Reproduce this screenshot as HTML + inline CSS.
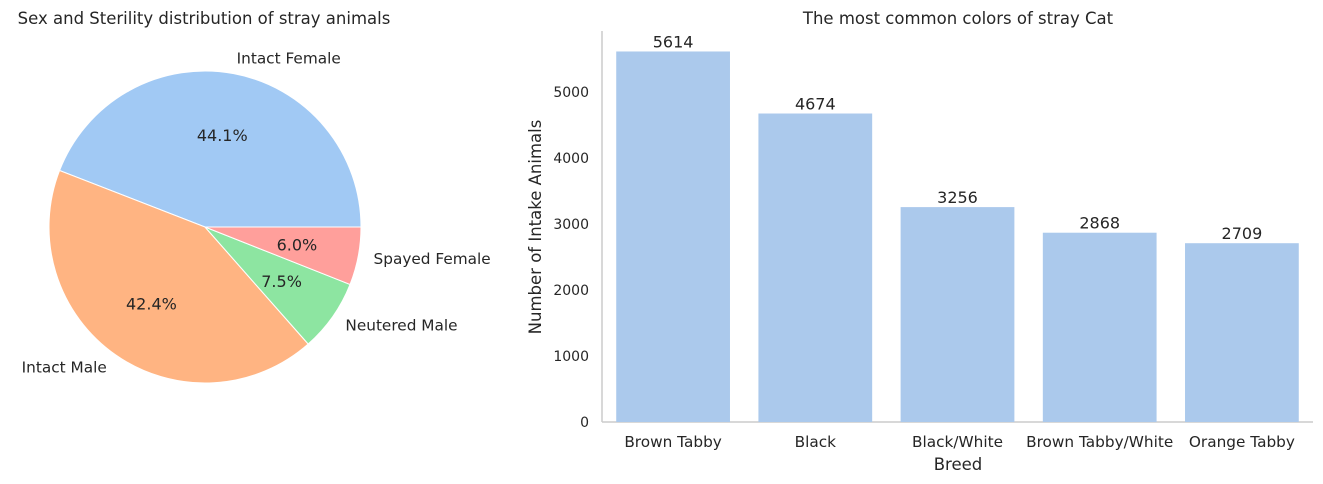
<!DOCTYPE html>
<html><head><meta charset="utf-8"><style>
body{margin:0;background:#fff;}
svg{display:block;font-family:"DejaVu Sans","Liberation Sans",sans-serif;}
</style></head><body>
<svg id="c" width="1323" height="484">
<text x="204" y="24" text-anchor="middle" font-size="16.5" fill="#262626">Sex and Sterility distribution of stray animals</text>
<text x="958" y="24" text-anchor="middle" font-size="16.5" fill="#262626">The most common colors of stray Cat</text>
<g id="pie"></g>
<g id="bars"></g>
</svg>
<script>
const pieLabels=["Intact Female","Intact Male","Neutered Male","Spayed Female"];
const pieValues=[44.1,42.4,7.5,6.0];
const pieColors=["#a1c9f4","#ffb482","#8de5a1","#ff9f9b"];
const barCats=["Brown Tabby","Black","Black/White","Brown Tabby/White","Orange Tabby"];
const barValues=[5614,4674,3256,2868,2709];
const yTicks=[0,1000,2000,3000,4000,5000];
const NS="http://www.w3.org/2000/svg";
function mk(tag,attrs,parent){const e=document.createElementNS(NS,tag);for(const k in attrs)e.setAttribute(k,attrs[k]);parent.appendChild(e);return e;}
const pie=document.getElementById('pie');
const cx=205,cy=227,R=156;
const total=pieValues.reduce((a,b)=>a+b,0);
let a0=0;
pieValues.forEach((v,i)=>{
  const a1=a0+v/total*2*Math.PI;
  const p=(a)=>[cx+R*Math.cos(a),cy-R*Math.sin(a)];
  const [x0,y0]=p(a0),[x1,y1]=p(a1);
  const large=(a1-a0)>Math.PI?1:0;
  const s=mk('path',{d:`M${cx},${cy}L${x0},${y0}A${R},${R} 0 ${large} 0 ${x1},${y1}Z`,fill:pieColors[i],stroke:'#fff','stroke-width':1},pie);
  
  
  const m=(a0+a1)/2;
  const lx=cx+1.1*R*Math.cos(m),ly=cy-1.1*R*Math.sin(m);
  const t=mk('text',{x:lx,y:ly+5,'text-anchor':Math.cos(m)>=0?'start':'end','font-size':15.3,fill:'#262626'},pie);
  t.textContent=pieLabels[i];
  
  
  const px=cx+0.6*R*Math.cos(m),py=cy-0.6*R*Math.sin(m);
  const t2=mk('text',{x:px,y:py+6,'text-anchor':'middle','font-size':16,fill:'#262626'},pie);
  t2.textContent=v.toFixed(1)+'%';
  
  
  a0=a1;
});
const g=document.getElementById('bars');
const X0=602,X1=1313,Y0=422,Yk=0.066;
const yS=v=>Y0-v*Yk;
const band=(X1-X0)/barCats.length;
mk('line',{x1:X0,y1:31,x2:X0,y2:Y0,stroke:'#ccc','stroke-width':1.5},g);
mk('line',{x1:X0,y1:Y0,x2:X1,y2:Y0,stroke:'#ccc','stroke-width':1.5},g);
yTicks.forEach(v=>{
  const t=mk('text',{x:X0-13,y:yS(v)+5,'text-anchor':'end','font-size':14,fill:'#262626'},g);
  t.textContent=v;
  
  
});
barCats.forEach((c,i)=>{
  const xc=X0+band*(i+0.5),w=band*0.8;
  const r=mk('rect',{x:xc-w/2,y:yS(barValues[i]),width:w,height:barValues[i]*Yk,fill:'#abc9ec'},g);
  
  
  const t=mk('text',{x:xc,y:yS(barValues[i])-4,'text-anchor':'middle','font-size':16,fill:'#262626'},g);
  t.textContent=barValues[i];
  
  
  const tl=mk('text',{x:xc,y:447,'text-anchor':'middle','font-size':15.3,fill:'#262626'},g);
  tl.textContent=c;
  
  
});
const xt=mk('text',{x:958,y:470,'text-anchor':'middle','font-size':16.5,fill:'#262626'},g);
xt.textContent='Breed';


const yt=mk('text',{x:0,y:0,'text-anchor':'middle','font-size':16.5,fill:'#262626',transform:'translate(541,227) rotate(-90)'},g);
yt.textContent='Number of Intake Animals';


</script>
</body></html>
